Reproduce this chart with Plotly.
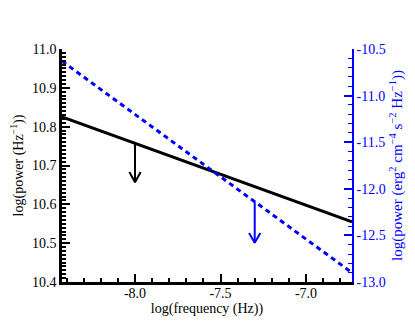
import plotly.graph_objects as go

# end points of the two power-law fits
freq = [-8.427, -6.731]
power_hz = [10.825, 10.555]          # log(power (Hz^-1)), left axis
power_erg = [-10.63, -12.90]         # log(power (erg^2 cm^-4 s^-2 Hz^-1)), right axis

# upper-limit arrows: x, start, end
arrow_hz = dict(x=-8.0, y0=10.757, y1=10.657)
arrow_erg = dict(x=-7.30, y0=-12.14, y1=-12.58)

xticks = [-8.0, -7.5, -7.0]
xticktext = ["-8.0", "-7.5", "-7.0"]
y2ticks = [-10.5, -11.0, -11.5, -12.0, -12.5, -13.0]
y2ticktext = ["-10.5", "-11.0", "-11.5", "-12.0", "-12.5", "-13.0"]

BLUE = "#0000ff"
FONT = "Liberation Serif, Times New Roman, serif"


def arrow(a, hx, hy):
    # shaft plus an open V head
    xs = [a["x"], a["x"], None, a["x"] - hx, a["x"], a["x"] + hx]
    ys = [a["y0"], a["y1"], None, a["y1"] + hy, a["y1"], a["y1"] + hy]
    return xs, ys


fig = go.Figure()
fig.add_trace(go.Scatter(x=freq, y=power_hz, mode="lines",
                         line=dict(color="black", width=3), yaxis="y"))
fig.add_trace(go.Scatter(x=freq, y=power_erg, mode="lines",
                         line=dict(color=BLUE, width=3, dash="5px,4px"), yaxis="y2"))

ax, ay = arrow(arrow_hz, 0.033, 0.026)
fig.add_trace(go.Scatter(x=ax, y=ay, mode="lines",
                         line=dict(color="black", width=2), yaxis="y"))
bx, by = arrow(arrow_erg, 0.033, 0.105)
fig.add_trace(go.Scatter(x=bx, y=by, mode="lines",
                         line=dict(color=BLUE, width=2), yaxis="y2"))

# page body has an 8px margin, so the figure is sized to the rest of the window
fig.update_layout(
    width=407, height=324,
    margin=dict(l=54, r=63, t=41, b=50, autoexpand=False),
    showlegend=False,
    plot_bgcolor="white", paper_bgcolor="white",
    font=dict(family=FONT, size=14, color="black"),
    xaxis=dict(range=[freq[0], freq[1]], showgrid=False, zeroline=False,
               automargin=False,
               showline=True, linecolor="black", linewidth=2.5,
               ticks="inside", ticklen=8, tickwidth=2, tickcolor="black",
               tickvals=xticks, ticktext=xticktext, ticklabelstandoff=-4,
               minor=dict(dtick=0.1, tick0=-8.0, ticks="inside", ticklen=4,
                          tickwidth=1.5, tickcolor="black", showgrid=False),
               title=dict(text="log(frequency (Hz))", standoff=0,
                          font=dict(size=14))),
    yaxis=dict(range=[10.4, 11.0], showgrid=False, zeroline=False,
               automargin=False,
               showline=True, linecolor="black", linewidth=2.5,
               ticks="inside", ticklen=8, tickwidth=2, tickcolor="black",
               dtick=0.1, tickformat=".1f",
               minor=dict(dtick=0.01, ticks="inside", ticklen=4,
                          tickwidth=1.5, tickcolor="black", showgrid=False),
               title=dict(text="log(power (Hz<sup>−1</sup>))", standoff=8,
                          font=dict(size=14))),
    yaxis2=dict(range=[-13.0, -10.5], overlaying="y", side="right",
                showgrid=False, zeroline=False, automargin=False,
                showline=True, linecolor=BLUE, linewidth=1.5,
                ticks="inside", ticklen=8, tickwidth=1.5, tickcolor=BLUE,
                tickvals=y2ticks, ticktext=y2ticktext,
                tickfont=dict(color=BLUE),
                minor=dict(dtick=0.1, tick0=-13.0, ticks="inside", ticklen=4,
                           tickwidth=1, tickcolor=BLUE, showgrid=False),
                title=dict(text="log(power (erg<sup>2</sup> cm<sup>−4</sup> s<sup>−2</sup> Hz<sup>−1</sup>))",
                           standoff=7, font=dict(size=15, color=BLUE))),
)

fig.write_html("out.html")
